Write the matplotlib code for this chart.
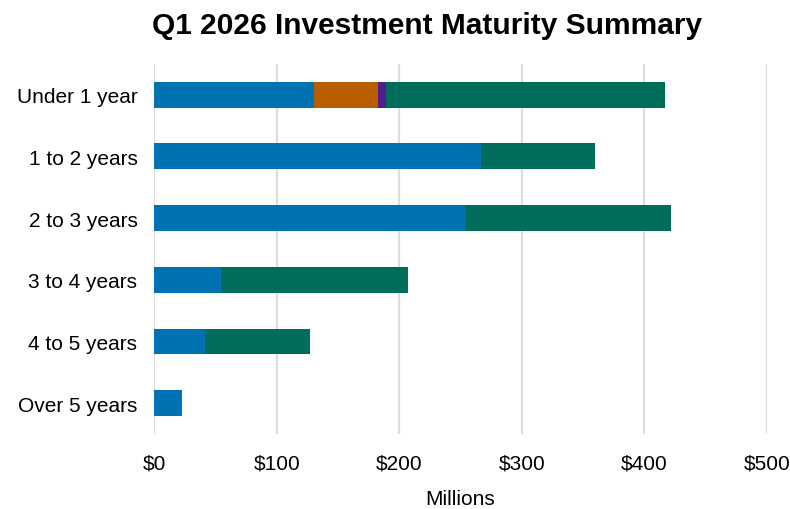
import numpy as np
import matplotlib.pyplot as plt

plt.rcParams['font.family'] = ['Liberation Sans', 'DejaVu Sans']

categories = ["Under 1 year", "1 to 2 years", "2 to 3 years", "3 to 4 years", "4 to 5 years", "Over 5 years"]
blue_vals = [130.6, 266.6, 254.3, 54.6, 41.2, 22.4]
orange_vals = [52.2, 0, 0, 0, 0, 0]
purple_vals = [6.2, 0, 0, 0, 0, 0]
green_vals = [228.0, 92.9, 167.3, 152.2, 86.1, 0]
xticks = [0, 100, 200, 300, 400, 500]

colors = ["#0072B2", "#BA5C00", "#4E1E8E", "#006C5A"]

fig = plt.figure(figsize=(7.9, 5.1), dpi=100)
ax = fig.add_axes([0.195, 0.147, 0.776, 0.726])

y = np.arange(len(categories))
left = np.zeros(len(categories))
for vals, c in zip([blue_vals, orange_vals, purple_vals, green_vals], colors):
    vals = np.array(vals)
    ax.barh(y, vals, left=left, height=0.42, color=c, edgecolor="none", zorder=3)
    left += vals

ax.set_ylim(5.5, -0.5)
ax.set_xlim(0, 500)
ax.set_yticks(y)
ax.set_yticklabels(categories, fontsize=15)
ax.set_xticks(xticks)
ax.set_xticklabels(["$%d" % v for v in xticks], fontsize=15)
ax.tick_params(length=0, pad=12)
ax.tick_params(axis='x', pad=14)
ax.grid(axis='x', color="#dddddd", linewidth=1.6, zorder=0)
for s in ax.spines.values():
    s.set_visible(False)
ax.set_xlabel("Millions", fontsize=15, labelpad=12)

fig.suptitle("Q1 2026 Investment Maturity Summary", fontsize=21.5, fontweight="bold", x=0.54, y=0.976)

fig.savefig("out.png", dpi=100)
